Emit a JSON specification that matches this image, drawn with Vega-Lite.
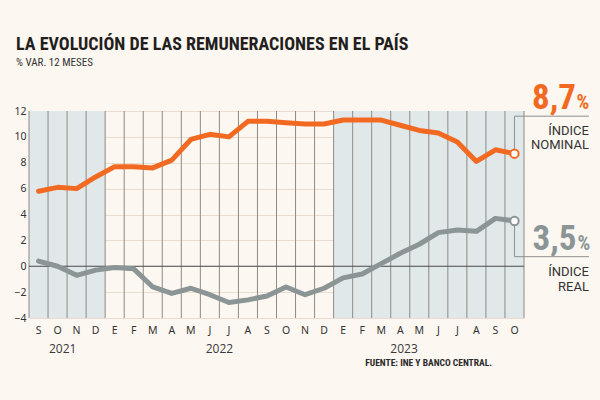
{
  "$schema": "https://vega.github.io/schema/vega-lite/v6.json",
  "width": 495,
  "height": 207,
  "autosize": {"type": "none"},
  "padding": {"left": 29, "top": 111, "right": 76, "bottom": 82},
  "background": "#fdf7f1",
  "config": {
    "view": {"stroke": null},
    "axis": {"domain": false, "ticks": false, "labelFont": "Noto Sans", "labelFontSize": 10.5, "labelColor": "#333333"},
    "axisX": {"grid": false, "labelPadding": 7.5, "labelOverlap": false, "labelAngle": 0},
    "axisY": {"grid": true, "gridColor": "#e8ddd0", "gridWidth": 1, "tickCount": 8, "labelPadding": 3}
  },
  "title": {
    "text": "LA EVOLUCIÓN DE LAS REMUNERACIONES EN EL PAÍS",
    "subtitle": "% VAR. 12 MESES",
    "anchor": "start",
    "frame": "group",
    "dx": -13,
    "offset": 13.5,
    "font": "Roboto Condensed, Roboto",
    "fontSize": 18,
    "fontWeight": "bold",
    "color": "#231f20",
    "subtitleFont": "Roboto Condensed, Roboto",
    "subtitleFontSize": 11,
    "subtitleColor": "#333333",
    "subtitlePadding": 3
  },
  "data": {
    "values": [
      {"key": "2021-09", "year": 2021, "nominal": 5.8, "real": 0.4},
      {"key": "2021-10", "year": 2021, "nominal": 6.1, "real": 0.0},
      {"key": "2021-11", "year": 2021, "nominal": 6.0, "real": -0.7},
      {"key": "2021-12", "year": 2021, "nominal": 6.9, "real": -0.3},
      {"key": "2022-01", "year": 2022, "nominal": 7.7, "real": -0.1},
      {"key": "2022-02", "year": 2022, "nominal": 7.7, "real": -0.2},
      {"key": "2022-03", "year": 2022, "nominal": 7.6, "real": -1.6},
      {"key": "2022-04", "year": 2022, "nominal": 8.2, "real": -2.1},
      {"key": "2022-05", "year": 2022, "nominal": 9.8, "real": -1.7},
      {"key": "2022-06", "year": 2022, "nominal": 10.2, "real": -2.2},
      {"key": "2022-07", "year": 2022, "nominal": 10.0, "real": -2.8},
      {"key": "2022-08", "year": 2022, "nominal": 11.2, "real": -2.6},
      {"key": "2022-09", "year": 2022, "nominal": 11.2, "real": -2.3},
      {"key": "2022-10", "year": 2022, "nominal": 11.1, "real": -1.6},
      {"key": "2022-11", "year": 2022, "nominal": 11.0, "real": -2.2},
      {"key": "2022-12", "year": 2022, "nominal": 11.0, "real": -1.7},
      {"key": "2023-01", "year": 2023, "nominal": 11.3, "real": -0.9},
      {"key": "2023-02", "year": 2023, "nominal": 11.3, "real": -0.6},
      {"key": "2023-03", "year": 2023, "nominal": 11.3, "real": 0.2},
      {"key": "2023-04", "year": 2023, "nominal": 10.9, "real": 1.0},
      {"key": "2023-05", "year": 2023, "nominal": 10.5, "real": 1.7},
      {"key": "2023-06", "year": 2023, "nominal": 10.3, "real": 2.6},
      {"key": "2023-07", "year": 2023, "nominal": 9.6, "real": 2.8},
      {"key": "2023-08", "year": 2023, "nominal": 8.1, "real": 2.7},
      {"key": "2023-09", "year": 2023, "nominal": 9.0, "real": 3.7},
      {"key": "2023-10", "year": 2023, "nominal": 8.7, "real": 3.5}
    ]
  },
  "layer": [
    {
      "transform": [{"filter": "datum.year != 2022"}],
      "mark": {"type": "bar", "color": "#e1e8ea"},
      "encoding": {
        "x": {"field": "key", "type": "ordinal", "scale": {"type": "band", "paddingInner": 0, "paddingOuter": 0}, "title": null,
              "axis": {"labelExpr": "['E','F','M','A','M','J','J','A','S','O','N','D'][toNumber(slice(datum.value,5,7))-1]"}},
        "y": {"datum": 12, "type": "quantitative", "scale": {"domain": [-4, 12], "nice": false, "zero": false}, "title": null},
        "y2": {"datum": -4}
      }
    },
    {
      "mark": {"type": "rule", "color": "#857e78", "strokeWidth": 0.9},
      "encoding": {
        "x": {"field": "key", "type": "ordinal", "bandPosition": 0, "title": null},
        "y": {"datum": 12, "type": "quantitative", "title": null},
        "y2": {"datum": -4}
      }
    },
    {
      "transform": [{"filter": "datum.key == '2023-10'"}],
      "mark": {"type": "rule", "color": "#857e78", "strokeWidth": 0.9},
      "encoding": {
        "x": {"field": "key", "type": "ordinal", "bandPosition": 1, "title": null},
        "y": {"datum": 12, "type": "quantitative", "title": null},
        "y2": {"datum": -4}
      }
    },
    {
      "data": {"values": [{"zero": 0}]},
      "mark": {"type": "rule", "color": "#4a4a4a", "strokeWidth": 1.1},
      "encoding": {
        "y": {"field": "zero", "type": "quantitative", "title": null}
      }
    },
    {
      "transform": [{"filter": "datum.key == '2023-10'"}],
      "mark": {"type": "rule", "color": "#8f8f8f", "strokeWidth": 1},
      "encoding": {
        "x": {"field": "key", "type": "ordinal", "bandPosition": 0.5, "title": null},
        "y": {"field": "nominal", "type": "quantitative", "title": null},
        "y2": {"datum": 11.6}
      }
    },
    {
      "transform": [{"filter": "datum.key == '2023-10'"}],
      "mark": {"type": "rule", "color": "#8f8f8f", "strokeWidth": 1, "x2Offset": 74.5},
      "encoding": {
        "x": {"field": "key", "type": "ordinal", "bandPosition": 0.5, "title": null},
        "x2": {"field": "key"},
        "y": {"datum": 11.6, "type": "quantitative", "title": null}
      }
    },
    {
      "transform": [{"filter": "datum.key == '2023-10'"}],
      "mark": {"type": "rule", "color": "#8f8f8f", "strokeWidth": 1},
      "encoding": {
        "x": {"field": "key", "type": "ordinal", "bandPosition": 0.5, "title": null},
        "y": {"field": "real", "type": "quantitative", "title": null},
        "y2": {"datum": 0.74}
      }
    },
    {
      "transform": [{"filter": "datum.key == '2023-10'"}],
      "mark": {"type": "rule", "color": "#8f8f8f", "strokeWidth": 1, "x2Offset": 74.5},
      "encoding": {
        "x": {"field": "key", "type": "ordinal", "bandPosition": 0.5, "title": null},
        "x2": {"field": "key"},
        "y": {"datum": 0.74, "type": "quantitative", "title": null}
      }
    },
    {
      "mark": {"type": "line", "color": "#f26a21", "strokeWidth": 5, "strokeCap": "round", "strokeJoin": "round"},
      "encoding": {
        "x": {"field": "key", "type": "ordinal", "bandPosition": 0.5, "title": null},
        "y": {"field": "nominal", "type": "quantitative", "title": null}
      }
    },
    {
      "mark": {"type": "line", "color": "#8b9595", "strokeWidth": 5, "strokeCap": "round", "strokeJoin": "round"},
      "encoding": {
        "x": {"field": "key", "type": "ordinal", "bandPosition": 0.5, "title": null},
        "y": {"field": "real", "type": "quantitative", "title": null}
      }
    },
    {
      "transform": [{"filter": "datum.key == '2023-10'"}],
      "mark": {"type": "point", "filled": true, "fill": "#ffffff", "stroke": "#f26a21", "strokeWidth": 2, "size": 70, "opacity": 1},
      "encoding": {
        "x": {"field": "key", "type": "ordinal", "bandPosition": 0.5, "title": null},
        "y": {"field": "nominal", "type": "quantitative", "title": null}
      }
    },
    {
      "transform": [{"filter": "datum.key == '2023-10'"}],
      "mark": {"type": "point", "filled": true, "fill": "#ffffff", "stroke": "#8b9595", "strokeWidth": 2, "size": 70, "opacity": 1},
      "encoding": {
        "x": {"field": "key", "type": "ordinal", "bandPosition": 0.5, "title": null},
        "y": {"field": "real", "type": "quantitative", "title": null}
      }
    },
    {
      "transform": [{"filter": "datum.key == '2023-10'"}],
      "mark": {"type": "text", "text": "8,7", "align": "right", "baseline": "alphabetic", "dx": 61.5, "dy": -44.4, "font": "Roboto Condensed, Roboto", "fontWeight": "bold", "fontSize": 35, "color": "#f26a21"},
      "encoding": {
        "x": {"field": "key", "type": "ordinal", "bandPosition": 0.5, "title": null},
        "y": {"field": "nominal", "type": "quantitative", "title": null}
      }
    },
    {
      "transform": [{"filter": "datum.key == '2023-10'"}],
      "mark": {"type": "text", "text": "%", "align": "left", "baseline": "alphabetic", "dx": 62, "dy": -44.4, "font": "Roboto Condensed, Roboto", "fontWeight": "bold", "fontSize": 20, "color": "#f26a21"},
      "encoding": {
        "x": {"field": "key", "type": "ordinal", "bandPosition": 0.5, "title": null},
        "y": {"field": "nominal", "type": "quantitative", "title": null}
      }
    },
    {
      "transform": [{"filter": "datum.key == '2023-10'"}],
      "mark": {"type": "text", "text": "ÍNDICE", "align": "right", "baseline": "alphabetic", "dx": 74.5, "dy": -18.7, "font": "Roboto", "fontSize": 13, "color": "#333333"},
      "encoding": {
        "x": {"field": "key", "type": "ordinal", "bandPosition": 0.5, "title": null},
        "y": {"field": "nominal", "type": "quantitative", "title": null}
      }
    },
    {
      "transform": [{"filter": "datum.key == '2023-10'"}],
      "mark": {"type": "text", "text": "NOMINAL", "align": "right", "baseline": "alphabetic", "dx": 74.5, "dy": -4.4, "font": "Roboto", "fontSize": 13, "color": "#333333"},
      "encoding": {
        "x": {"field": "key", "type": "ordinal", "bandPosition": 0.5, "title": null},
        "y": {"field": "nominal", "type": "quantitative", "title": null}
      }
    },
    {
      "transform": [{"filter": "datum.key == '2023-10'"}],
      "mark": {"type": "text", "text": "3,5", "align": "right", "baseline": "alphabetic", "dx": 62, "dy": 29, "font": "Roboto Condensed, Roboto", "fontWeight": "bold", "fontSize": 35, "color": "#8b9595"},
      "encoding": {
        "x": {"field": "key", "type": "ordinal", "bandPosition": 0.5, "title": null},
        "y": {"field": "real", "type": "quantitative", "title": null}
      }
    },
    {
      "transform": [{"filter": "datum.key == '2023-10'"}],
      "mark": {"type": "text", "text": "%", "align": "left", "baseline": "alphabetic", "dx": 63, "dy": 29, "font": "Roboto Condensed, Roboto", "fontWeight": "bold", "fontSize": 20, "color": "#8b9595"},
      "encoding": {
        "x": {"field": "key", "type": "ordinal", "bandPosition": 0.5, "title": null},
        "y": {"field": "real", "type": "quantitative", "title": null}
      }
    },
    {
      "transform": [{"filter": "datum.key == '2023-10'"}],
      "mark": {"type": "text", "text": "ÍNDICE", "align": "right", "baseline": "alphabetic", "dx": 74.5, "dy": 54.7, "font": "Roboto", "fontSize": 13, "color": "#333333"},
      "encoding": {
        "x": {"field": "key", "type": "ordinal", "bandPosition": 0.5, "title": null},
        "y": {"field": "real", "type": "quantitative", "title": null}
      }
    },
    {
      "transform": [{"filter": "datum.key == '2023-10'"}],
      "mark": {"type": "text", "text": "REAL", "align": "right", "baseline": "alphabetic", "dx": 74.5, "dy": 69.7, "font": "Roboto", "fontSize": 13, "color": "#333333"},
      "encoding": {
        "x": {"field": "key", "type": "ordinal", "bandPosition": 0.5, "title": null},
        "y": {"field": "real", "type": "quantitative", "title": null}
      }
    },
    {
      "data": {"values": [{"label": "2021", "at": "2021-10", "base": -4}]},
      "mark": {"type": "text", "baseline": "middle", "align": "center", "dy": 30.5, "font": "Open Sans", "fontSize": 12, "color": "#3a3a3a"},
      "encoding": {
        "x": {"field": "at", "type": "ordinal", "bandPosition": 0.77, "title": null},
        "y": {"field": "base", "type": "quantitative", "title": null},
        "text": {"field": "label"}
      }
    },
    {
      "data": {"values": [{"label": "2022", "at": "2022-07", "base": -4}]},
      "mark": {"type": "text", "baseline": "middle", "align": "center", "dy": 30.5, "font": "Open Sans", "fontSize": 12, "color": "#3a3a3a"},
      "encoding": {
        "x": {"field": "at", "type": "ordinal", "bandPosition": 0, "title": null},
        "y": {"field": "base", "type": "quantitative", "title": null},
        "text": {"field": "label"}
      }
    },
    {
      "data": {"values": [{"label": "2023", "at": "2023-04", "base": -4}]},
      "mark": {"type": "text", "baseline": "middle", "align": "center", "dy": 30.5, "font": "Open Sans", "fontSize": 12, "color": "#3a3a3a"},
      "encoding": {
        "x": {"field": "at", "type": "ordinal", "bandPosition": 0.7, "title": null},
        "y": {"field": "base", "type": "quantitative", "title": null},
        "text": {"field": "label"}
      }
    },
    {
      "data": {"values": [{"label": "FUENTE: INE Y BANCO CENTRAL.", "at": "2023-09", "base": -4}]},
      "mark": {"type": "text", "baseline": "middle", "align": "right", "dy": 45.3, "font": "Roboto Condensed, Roboto", "fontWeight": "bold", "fontSize": 9.5, "color": "#2a2a2a"},
      "encoding": {
        "x": {"field": "at", "type": "ordinal", "bandPosition": 0.32, "title": null},
        "y": {"field": "base", "type": "quantitative", "title": null},
        "text": {"field": "label"}
      }
    }
  ]
}
